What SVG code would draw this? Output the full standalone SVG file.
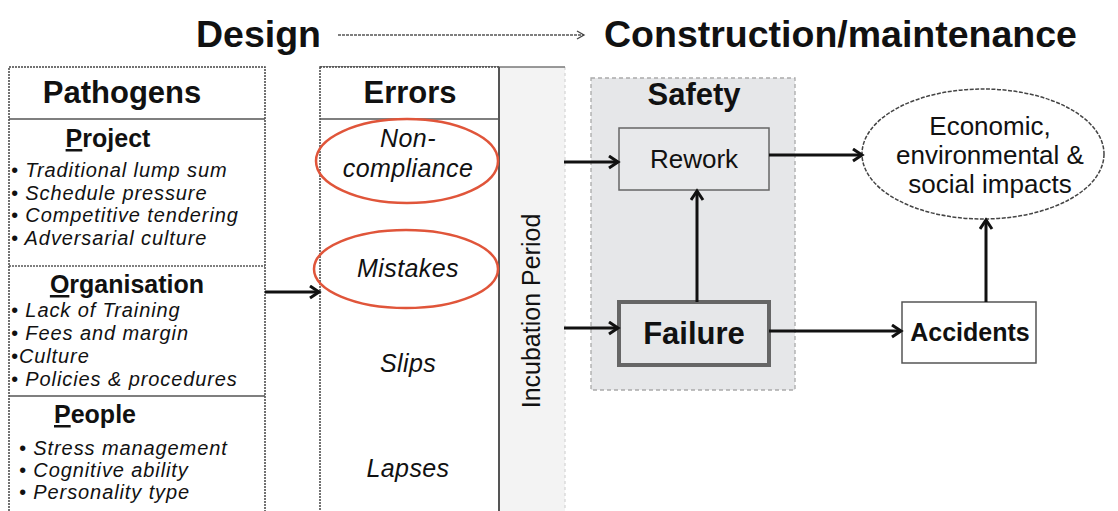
<svg xmlns="http://www.w3.org/2000/svg" width="1118" height="511" viewBox="0 0 1118 511">
  <defs>
    <style>
      .t { font-family: "Liberation Sans", Arial, sans-serif; fill: #111; }
      .title { font-size: 37.5px; font-weight: bold; }
      .head { font-size: 31px; font-weight: bold; text-anchor: middle; }
      .sub { font-size: 25px; font-weight: bold; text-anchor: middle; }
      .bul { font-size: 20px; font-style: italic; letter-spacing: 0.9px; }
      .err { font-size: 25px; font-style: italic; text-anchor: middle; letter-spacing: 0.4px; }
      .lbl { font-size: 26px; text-anchor: middle; }
      .box-out { fill: #fff; stroke: #444; stroke-width: 1.5; stroke-dasharray: 2 1; }
      .div { stroke: #555; stroke-width: 1.5; }
      .conn { stroke: #111; stroke-width: 3; fill: none; marker-end: url(#arrow); }
      .red { fill: none; stroke: #e0553a; stroke-width: 2.5; }
    </style>
    <marker id="arrow" markerUnits="userSpaceOnUse" markerWidth="16" markerHeight="16" refX="11" refY="7" orient="auto">
      <path d="M2,1 L11,7 L2,13" fill="none" stroke="#111" stroke-width="3"/>
    </marker>
    <marker id="thin" markerUnits="userSpaceOnUse" markerWidth="12" markerHeight="12" refX="9" refY="5" orient="auto">
      <path d="M2,1 L9,5 L2,9" fill="none" stroke="#444" stroke-width="1.3"/>
    </marker>
  </defs>

  <rect width="1118" height="511" fill="#fff"/>

  <!-- Phase headline -->
  <g id="phase">
    <text class="t title" x="196" y="47">Design</text>
    <line x1="338" y1="35" x2="584" y2="35" stroke="#555" stroke-width="1.3" stroke-dasharray="3 1" marker-end="url(#thin)"/>
    <text class="t title" x="604" y="47">Construction/maintenance</text>
  </g>

  <!-- Pathogens column -->
  <g id="pathogens">
    <rect class="box-out" x="9" y="67" width="256" height="470"/>
    <line class="div" x1="9" y1="119" x2="265" y2="119"/>
    <line class="div" x1="9" y1="266" x2="265" y2="266" stroke-dasharray="2 1"/>
    <line class="div" x1="9" y1="396" x2="265" y2="396"/>
    <text class="t head" x="122" y="103">Pathogens</text>

    <text class="t sub" x="108" y="147"><tspan text-decoration="underline">P</tspan>roject</text>
    <text class="t bul" x="11" y="177">• Traditional lump sum</text>
    <text class="t bul" x="11" y="199.5">• Schedule pressure</text>
    <text class="t bul" x="11" y="222">• Competitive tendering</text>
    <text class="t bul" x="11" y="244.5">• Adversarial culture</text>

    <text class="t sub" x="127" y="293"><tspan text-decoration="underline">O</tspan>rganisation</text>
    <text class="t bul" x="11" y="317">• Lack of Training</text>
    <text class="t bul" x="11" y="340">• Fees and margin</text>
    <text class="t bul" x="11" y="362.5">•Culture</text>
    <text class="t bul" x="11" y="386">• Policies &amp; procedures</text>

    <text class="t sub" x="95" y="423"><tspan text-decoration="underline">P</tspan>eople</text>
    <text class="t bul" x="19" y="455">• Stress management</text>
    <text class="t bul" x="19" y="477">• Cognitive ability</text>
    <text class="t bul" x="19" y="499">• Personality type</text>
  </g>

  <!-- Incubation period band -->
  <g id="incubation">
    <rect x="499" y="67" width="66" height="460" fill="#f3f3f3"/>
    <line x1="565" y1="67" x2="565" y2="511" stroke="#ccc" stroke-width="1" stroke-dasharray="3 3"/>
    <line x1="320" y1="67" x2="565" y2="67" stroke="#777" stroke-width="1.5"/>
    <text class="t" x="0" y="0" font-size="25" fill="#333" text-anchor="middle" transform="translate(540 311) rotate(-90)">Incubation Period</text>
  </g>

  <!-- Errors column -->
  <g id="errors">
    <rect class="box-out" x="320" y="67" width="179" height="470"/>
    <line class="div" x1="320" y1="119" x2="499" y2="119"/>
    <line x1="499" y1="67" x2="499" y2="511" stroke="#555" stroke-width="2"/>
    <text class="t head" x="410" y="103">Errors</text>
    <text class="t err" x="408" y="147">Non-</text>
    <text class="t err" x="408" y="177">compliance</text>
    <text class="t err" x="408" y="277">Mistakes</text>
    <text class="t err" x="408" y="372">Slips</text>
    <text class="t err" x="408" y="477">Lapses</text>
    <ellipse class="red" cx="407" cy="161" rx="91" ry="42"/>
    <ellipse class="red" cx="406" cy="269" rx="92" ry="39"/>
  </g>

  <!-- Safety zone -->
  <g id="safety">
    <rect x="591" y="78" width="204" height="312" fill="#e6e7e9" stroke="#aaa" stroke-width="1.3" stroke-dasharray="4 3"/>
    <text class="t" x="694" y="105" font-size="31" font-weight="bold" text-anchor="middle">Safety</text>
  </g>

  <g id="rework">
    <rect x="619" y="128" width="150" height="62" fill="#e8e9eb" stroke="#666" stroke-width="1.5"/>
    <text class="t lbl" x="694" y="168">Rework</text>
  </g>

  <g id="failure">
    <rect x="619" y="302" width="150" height="63" fill="#e6e7e9" stroke="#666" stroke-width="4"/>
    <text class="t" x="694" y="344" font-size="31" font-weight="bold" text-anchor="middle">Failure</text>
  </g>

  <g id="accidents">
    <rect x="902" y="302" width="134" height="61" fill="#fff" stroke="#555" stroke-width="1.5"/>
    <text class="t" x="970" y="341" font-size="25" font-weight="bold" text-anchor="middle">Accidents</text>
  </g>

  <g id="impacts">
    <ellipse cx="983" cy="154" rx="121" ry="65" fill="#fff" stroke="#444" stroke-width="1.5" stroke-dasharray="4 1.5"/>
    <text class="t lbl" x="990" y="135">Economic,</text>
    <text class="t lbl" x="990" y="164">environmental &amp;</text>
    <text class="t lbl" x="990" y="193">social impacts</text>
  </g>

  <!-- Connectors -->
  <g id="connectors">
    <line class="conn" x1="265" y1="292" x2="319" y2="292"/>
    <line class="conn" x1="564" y1="162" x2="618" y2="162"/>
    <line class="conn" x1="564" y1="328" x2="618" y2="328"/>
    <line class="conn" x1="697" y1="302" x2="697" y2="191"/>
    <line class="conn" x1="769" y1="155" x2="862" y2="155"/>
    <line class="conn" x1="769" y1="331" x2="901" y2="331"/>
    <line class="conn" x1="986" y1="302" x2="986" y2="220"/>
  </g>
</svg>
